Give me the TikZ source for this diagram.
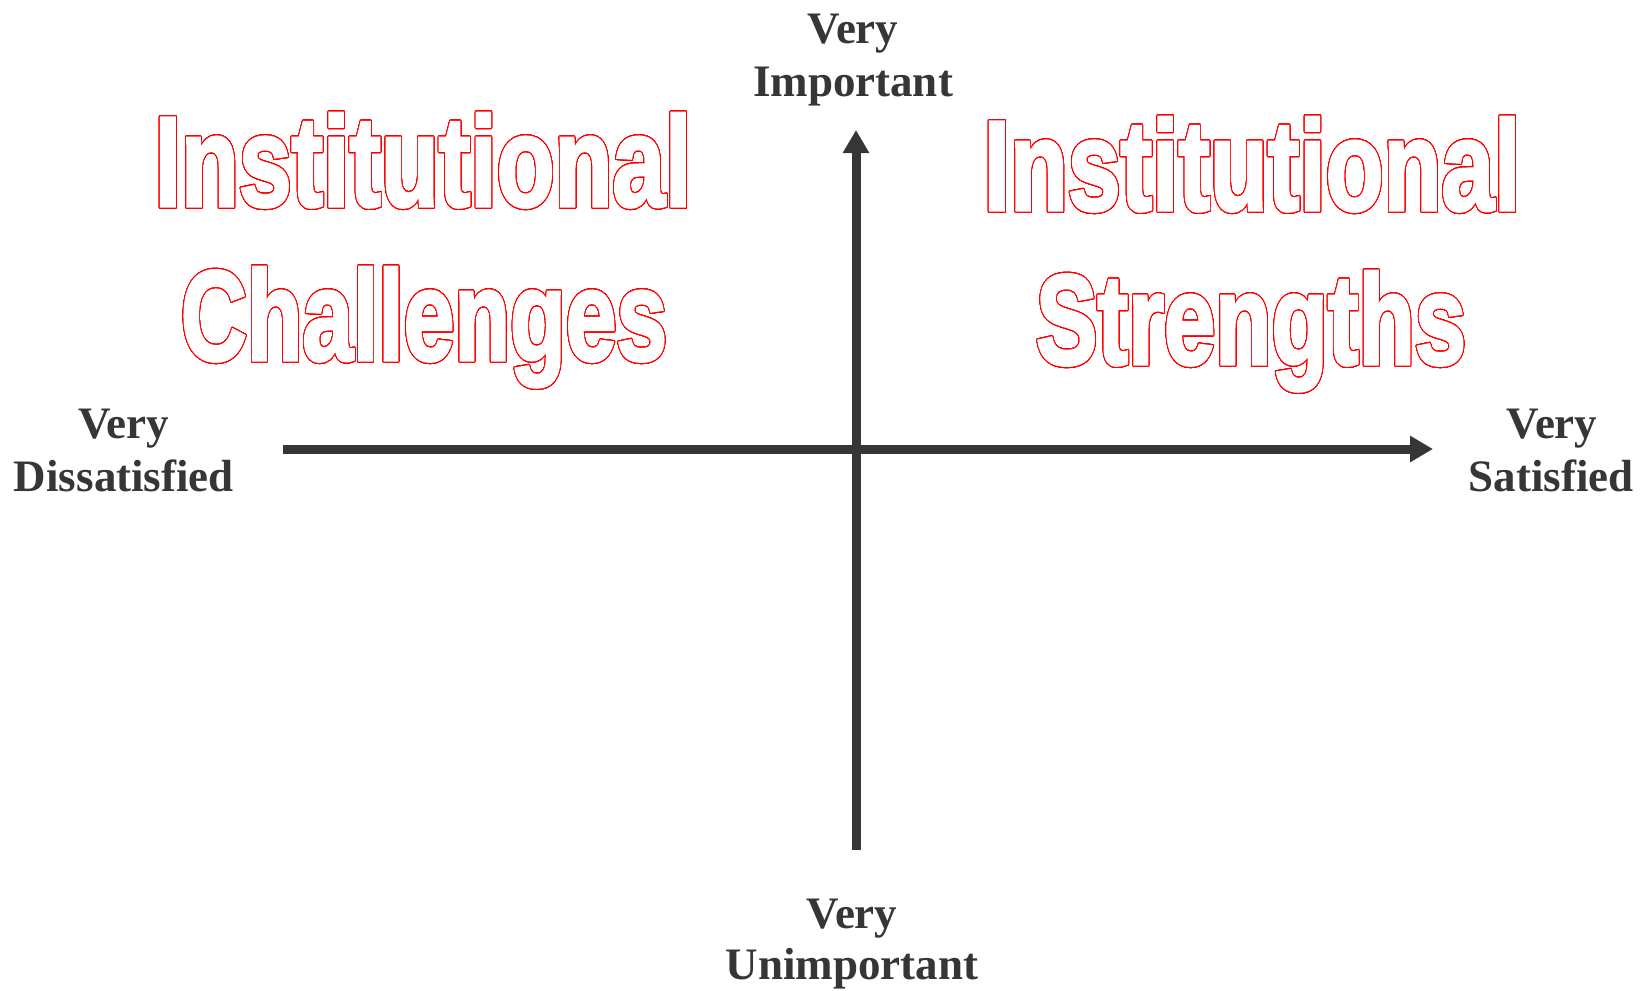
\documentclass[tikz,border=0pt]{standalone}
\usepackage{fontspec}
\usepackage[copies]{contour}
\usetikzlibrary{arrows.meta}
\setmainfont{Liberation Serif}
\newfontfamily\quadfont{Liberation Sans}[BoldFeatures={FakeBold=2.6}]
\definecolor{axisgray}{HTML}{363636}
\contourlength{1.2pt}
\contournumber{48}
\newcommand{\outlinetext}[2]{\scalebox{#1}[1]{\color{white}\contour{red}{#2}}}
\tikzset{
  axislabel/.style={text=axisgray, font=\fontsize{45}{52}\selectfont\bfseries, anchor=base, inner sep=0pt},
  quadtext/.style={anchor=base, inner sep=0pt, font=\quadfont\bfseries\fontsize{128}{128}\selectfont},
  axisline/.style={draw=axisgray, line width=9pt, -{Triangle[length=23pt,width=25pt]}},
}
\begin{document}
\begin{tikzpicture}[x=1pt,y=-1pt]
\useasboundingbox[fill=white] (0,0) rectangle (1645,990);
% axes
\coordinate (xl) at (283,449);
\coordinate (xr) at (1433,449);
\coordinate (yb) at (856,850);
\coordinate (yt) at (856,130);
\draw[axisline] (xl) -- (xr);
\draw[axisline] (yb) -- (yt);
% axis labels
\node[axislabel] (vt1) at (853,44) {Very};
\node[axislabel] (vt2) at (853,96.5) {Important};
\node[axislabel] (vb1) at (852,928) {Very};
\node[axislabel] (vb2) at (852,979) {Unimportant};
\node[axislabel] (vl1) at (124,438) {Very};
\node[axislabel] (vl2) at (124,491) {Dissatisfied};
\node[axislabel] (vr1) at (1552,438) {Very};
\node[axislabel] (vr2) at (1551,491) {Satisfied};
% quadrant titles
\node[quadtext] (lc1) at (423,206) {\outlinetext{0.74}{Institutional}};
\node[quadtext] (lc2) at (424,360) {\outlinetext{0.712}{Challenges}};
\node[quadtext] (rs1) at (1252,210) {\outlinetext{0.74}{Institutional}};
\node[quadtext] (rs2) at (1251,364) {\outlinetext{0.72}{Strengths}};
\end{tikzpicture}
\end{document}
